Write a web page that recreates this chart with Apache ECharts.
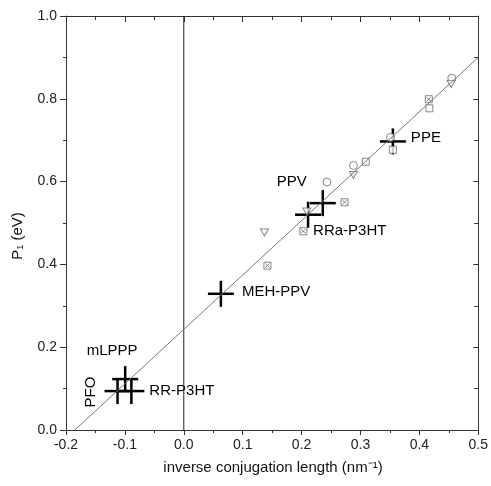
<!DOCTYPE html>
<html>
<head>
<meta charset="utf-8">
<script src="https://cdn.jsdelivr.net/npm/echarts@6/dist/echarts.min.js"></script>
<style>
    html, body {margin: 0; padding: 0; background: #fff;}
    #chart {width: 491px; height: 486px;}
</style>
</head>
<body>
<div id="chart"></div>
<script>
    // small open markers
    var circles = [[0.455, 0.85], [0.351, 0.707], [0.288, 0.639], [0.243, 0.599]];
    var triangles = [[0.454, 0.836], [0.288, 0.616], [0.209, 0.528], [0.137, 0.477]];
    var squares = [[0.417, 0.777], [0.355, 0.677], [0.309, 0.648]];
    var crossSquares = [[0.416, 0.799], [0.273, 0.55], [0.203, 0.48], [0.142, 0.397]];
    // polymers (big crosses)
    var polyNames = ['PPE', 'PPV', 'RRa-P3HT', 'MEH-PPV', 'mLPPP', 'PFO', 'RR-P3HT'];
    var polyX = [0.355, 0.236, 0.211, 0.063, -0.0995, -0.1125, -0.089];
    var polyY = [0.697, 0.548, 0.52, 0.329, 0.123, 0.094, 0.094];
    // linear fit
    var fitLine = [[-0.185, 0], [0.5, 0.9]];

    // label placement, px relative to cross centre
    var labelPos = {
        'PPE': [18, -4, 'left', 0],
        'PPV': [-31, -21, 'center', 0],
        'RRa-P3HT': [5, 16, 'left', 0],
        'MEH-PPV': [21, -2, 'left', 0],
        'mLPPP': [-13, -28, 'center', 0],
        'PFO': [-27, 1, 'center', Math.PI / 2],
        'RR-P3HT': [18, 0, 'left', 0]
    };

    var chart = echarts.init(document.getElementById('chart'));
    var axisCol = '#333';
    var mkStyle = {color: '#fff', borderColor: '#666', borderWidth: 1};
    var font = '"Liberation Sans", Arial, sans-serif';

    function tickLbl(v) { return v.toFixed(1); }

    var polyData = polyNames.map(function (n, i) { return [polyX[i], polyY[i], n]; });

    var option = {
        animation: false,
        grid: {left: 66, right: 10, top: 16, bottom: 56},
        xAxis: [{
            type: 'value', min: -0.2, max: 0.5, interval: 0.1,
            axisLine: {show: true, onZero: false, lineStyle: {color: axisCol}},
            axisTick: {show: true, length: 5, lineStyle: {color: axisCol}},
            minorTick: {show: true, splitNumber: 2, length: 3, lineStyle: {color: axisCol}},
            axisLabel: {formatter: tickLbl, color: '#222', fontSize: 14, margin: 8, fontFamily: font},
            splitLine: {show: false}
        }, {
            type: 'value', position: 'top', min: -0.2, max: 0.5, interval: 0.1,
            axisLine: {show: true, onZero: false, lineStyle: {color: axisCol}},
            axisTick: {show: true, inside: true, length: 6, lineStyle: {color: axisCol}},
            minorTick: {show: true, splitNumber: 2, length: 4, lineStyle: {color: axisCol}},
            axisLabel: {show: false},
            splitLine: {show: false}
        }],
        yAxis: [{
            type: 'value', min: 0, max: 1, interval: 0.2,
            axisLine: {show: true, onZero: false, lineStyle: {color: axisCol}},
            axisTick: {show: true, length: 6, lineStyle: {color: axisCol}},
            minorTick: {show: true, splitNumber: 2, length: 3, lineStyle: {color: axisCol}},
            axisLabel: {formatter: tickLbl, color: '#222', fontSize: 14, margin: 9, fontFamily: font},
            splitLine: {show: false}
        }, {
            type: 'value', position: 'right', min: 0, max: 1, interval: 0.2,
            axisLine: {show: true, onZero: false, lineStyle: {color: axisCol}},
            axisTick: {show: true, inside: true, length: 5, lineStyle: {color: axisCol}},
            minorTick: {show: true, splitNumber: 2, length: 4, lineStyle: {color: axisCol}},
            axisLabel: {show: false},
            splitLine: {show: false}
        }],
        graphic: [{
            type: 'text', x: 273, y: 468,
            style: {
                text: 'inverse conjugation length (nm\u207B\u00B9)',
                font: '15px ' + font, fill: '#111', align: 'center', verticalAlign: 'middle'
            }
        }, {
            type: 'text', x: 18, y: 236, rotation: Math.PI / 2,
            style: {
                text: 'P\u2081 (eV)', align: 'center', verticalAlign: 'middle',
                font: '15px ' + font, fill: '#111'
            }
        }],
        series: [{
            // x = 0 reference line
            type: 'line', data: [[0, 0], [0, 1]], symbol: 'none',
            lineStyle: {color: '#222', width: 1}, silent: true
        }, {
            type: 'line', data: fitLine, symbol: 'none',
            lineStyle: {color: '#777', width: 1}, silent: true
        }, {
            type: 'scatter', data: circles, symbol: 'circle', symbolSize: 8, itemStyle: mkStyle
        }, {
            type: 'scatter', data: triangles, symbol: 'path://M0,0 L10,0 L5,9 Z', symbolSize: [8, 7], itemStyle: mkStyle
        }, {
            type: 'scatter', data: squares, symbol: 'rect', symbolSize: 7, itemStyle: mkStyle
        }, {
            type: 'scatter', data: crossSquares,
            symbol: 'path://M0,0 L10,0 L10,10 L0,10 Z M2,2 L8,8 M8,2 L2,8', symbolSize: 7, itemStyle: mkStyle
        }, {
            type: 'custom', data: polyData,
            renderItem: function (params, api) {
                var c = api.coord([api.value(0), api.value(1)]);
                var n = polyData[params.dataIndex][2];
                var p = labelPos[n];
                var ls = {stroke: '#000', lineWidth: 2.5};
                return {
                    type: 'group',
                    children: [
                        {type: 'line', shape: {x1: c[0] - 13, y1: c[1], x2: c[0] + 13, y2: c[1]}, style: ls},
                        {type: 'line', shape: {x1: c[0], y1: c[1] - 13, x2: c[0], y2: c[1] + 13}, style: ls},
                        {
                            type: 'text', x: c[0] + p[0], y: c[1] + p[1], rotation: p[3],
                            style: {
                                text: n, fill: '#000', font: '15px ' + font,
                                align: p[2], verticalAlign: 'middle'
                            }
                        }
                    ]
                };
            }
        }]
    };
    chart.setOption(option);
</script>
</body>
</html>
